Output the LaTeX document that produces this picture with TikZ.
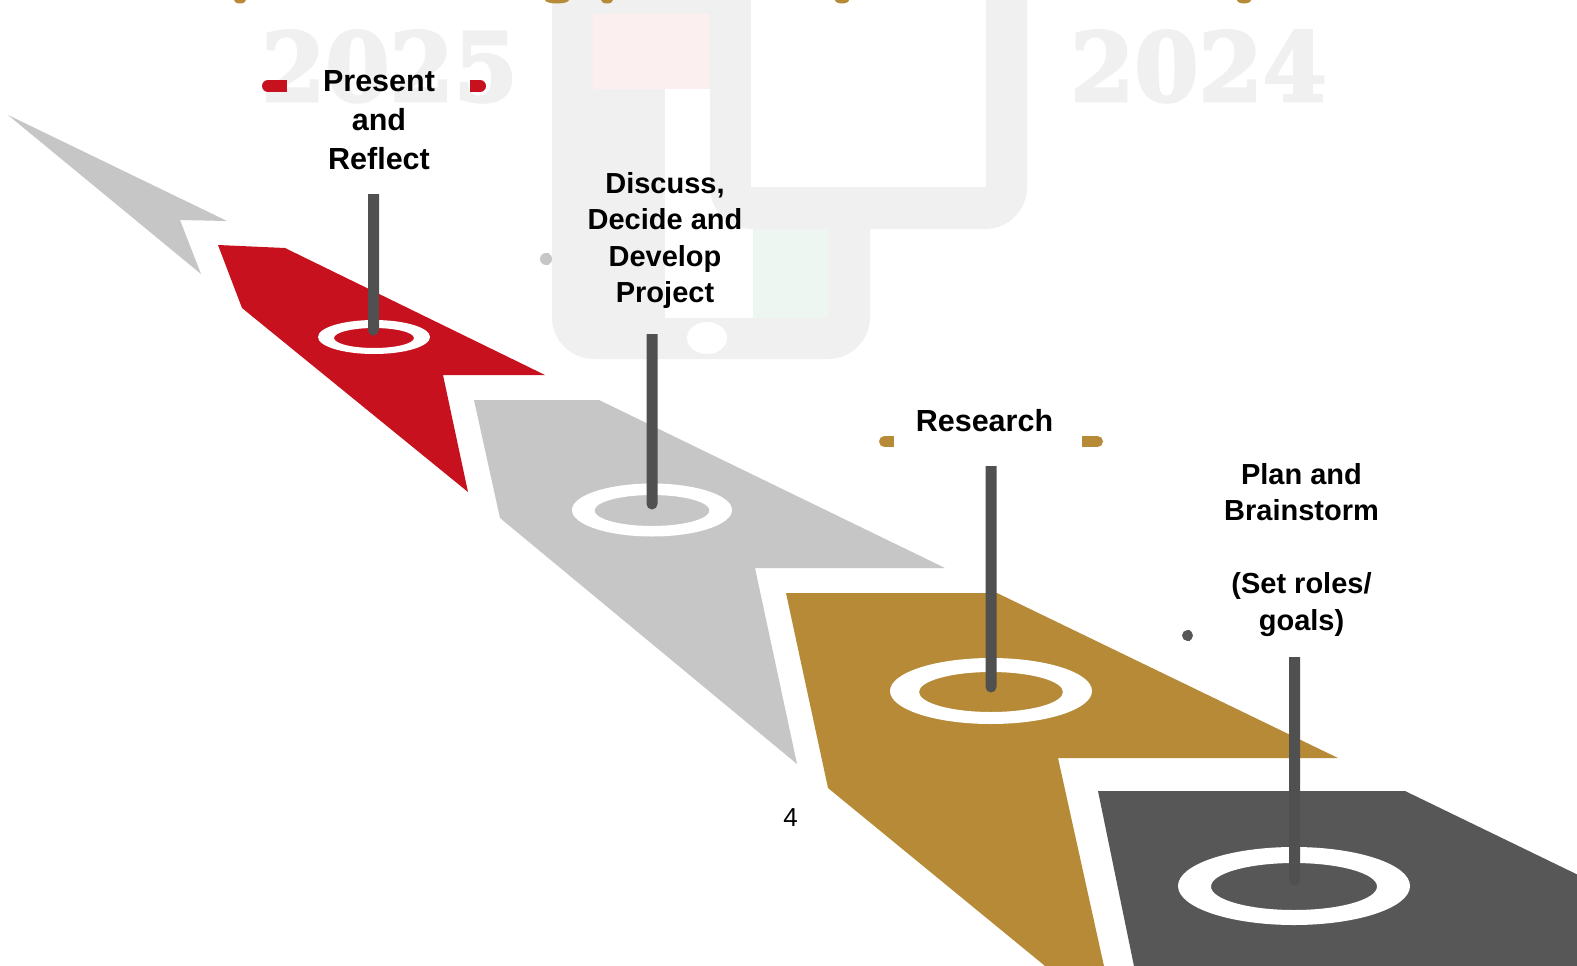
\documentclass[tikz,border=0pt]{standalone}
\usepackage{fontspec}
\setmainfont{Liberation Sans}
\newfontfamily\yearfont[FakeBold=3]{DejaVu Serif}
\definecolor{pred}{HTML}{C8111E}
\definecolor{pgold}{HTML}{B68A37}
\definecolor{plgray}{HTML}{C6C6C6}
\definecolor{pdgray}{HTML}{575757}
\definecolor{ppole}{HTML}{505050}
\definecolor{wmgray}{HTML}{F0F0F0}
\definecolor{wmred}{HTML}{FCEFEF}
\definecolor{wmgreen}{HTML}{EEF6F1}
\tikzset{
  lbl/.style={align=center, inner sep=0pt, text=black, font=\bfseries\fontsize{29}{36.5}\selectfont},
  lblbig/.style={lbl, font=\bfseries\fontsize{30.5}{39}\selectfont},
  ring/.style={fill=white, even odd rule},
  pole/.style={fill=ppole},
  year/.style={text=wmgray, inner sep=0pt, font=\yearfont\bfseries\fontsize{95}{95}\selectfont}
}
\begin{document}
\begin{tikzpicture}[x=1pt,y=-1pt]
\useasboundingbox (0,0) rectangle (1577,966);
\clip (0,0) rectangle (1577,966);
\fill[white] (0,0) rectangle (1577,966);

% ---------- watermark ----------
\fill[wmgray, rounded corners=42pt] (552,-60) rectangle (870,359);
\fill[wmred] (593,14) rectangle (709,89);
\fill[white] (665,89) rectangle (753,318);
\fill[wmgreen] (753,229) rectangle (828,318);
\fill[wmgray, rounded corners=42pt] (710,-60) rectangle (1027,229);
\fill[white] (751,-60) rectangle (986,187);
\fill[white] (707,338) ellipse [x radius=20pt, y radius=16pt];
\node[year, anchor=base] (y2025) at (389.5,101) {\scalebox{0.97}[1]{2025}};
\node[year, anchor=base] (y2024) at (1198.5,101) {\scalebox{0.97}[1]{2024}};

% ---------- cut title descenders ----------
\foreach \cx/\rx in {240/6, 557/12, 607/6, 842/7, 1244/7}
  \fill[pgold] (\cx,0) ellipse [x radius=\rx pt, y radius=3.5pt];

% ---------- staircase shapes ----------
\fill[plgray] (8,115) -- (227,221) -- (180,220) -- (201,274) -- cycle;
\fill[pred] (218,245) -- (285,248) -- (545,375) -- (443,375) -- (468,492) -- (242,308) -- cycle;
\fill[plgray] (474,400) -- (599,400) -- (945,568) -- (755,568) -- (797,764) -- (500,518) -- cycle;
\fill[pgold] (786,593) -- (997,593) -- (1338,758) -- (1058,758) -- (1117,1025) -- (828,788) -- cycle;
\fill[pdgray] (1098,791) -- (1405,791) -- (1700,934) -- (1700,1010) -- (1143,1010) -- cycle;

% ---------- rings ----------
\fill[ring] (374,337) ellipse [x radius=56pt, y radius=17pt] (374,338) ellipse [x radius=40pt, y radius=10pt];
\fill[ring] (652,510) ellipse [x radius=80pt, y radius=26.5pt] (652,510.5) ellipse [x radius=57.5pt, y radius=15.5pt];
\fill[ring] (991,691) ellipse [x radius=101pt, y radius=33pt] (991,692) ellipse [x radius=72pt, y radius=20pt];
\fill[ring] (1294,886) ellipse [x radius=116pt, y radius=39pt] (1294,886.5) ellipse [x radius=83pt, y radius=23.5pt];

% ---------- poles ----------
\fill[pole] (368,194) -- (379,194) -- (379,330) arc[start angle=0, end angle=180, radius=5.5] -- cycle;
\fill[pole] (646.5,334) -- (657.5,334) -- (657.5,504) arc[start angle=0, end angle=180, radius=5.5] -- cycle;
\fill[pole] (985.5,466) -- (996.5,466) -- (996.5,687) arc[start angle=0, end angle=180, radius=5.5] -- cycle;
\fill[pole] (1289,657) -- (1300,657) -- (1300,880) arc[start angle=0, end angle=180, radius=5.5] -- cycle;

% ---------- label markers ----------
\fill[pred] (268,80) rectangle (287,92);
\fill[pred] (268,86) circle [radius=6pt];
\fill[pred] (470,80) rectangle (480,92);
\fill[pred] (480,86) circle [radius=6pt];
\fill[plgray] (546,253) rectangle (549,265);
\fill[plgray] (546,259) circle [radius=6pt];
\fill[pgold] (884.5,436) rectangle (894,447);
\fill[pgold] (884.5,441.5) circle [radius=5.5pt];
\fill[pgold] (1082,436) rectangle (1097.5,447);
\fill[pgold] (1097.5,441.5) circle [radius=5.5pt];
\fill[pdgray] (1187.5,630) rectangle (1190,641);
\fill[pdgray] (1187.5,635.5) circle [radius=5.5pt];

% ---------- labels ----------
\node[lblbig, anchor=base] (present) at (379,169) {Present\\and\\Reflect};
\node[lbl, anchor=base] (discuss) at (665,302.5) {Discuss,\\Decide and\\Develop\\Project};
\node[lblbig, anchor=base] (research) at (984.5,431) {Research};
\node[lbl, anchor=base] (plan) at (1301.5,630) {Plan and\\Brainstorm\\[36.5pt](Set roles/\\goals)};
\node[inner sep=0pt, anchor=base, font=\fontsize{26}{26}\selectfont] (pagenum) at (790.5,826) {4};
\end{tikzpicture}
\end{document}
